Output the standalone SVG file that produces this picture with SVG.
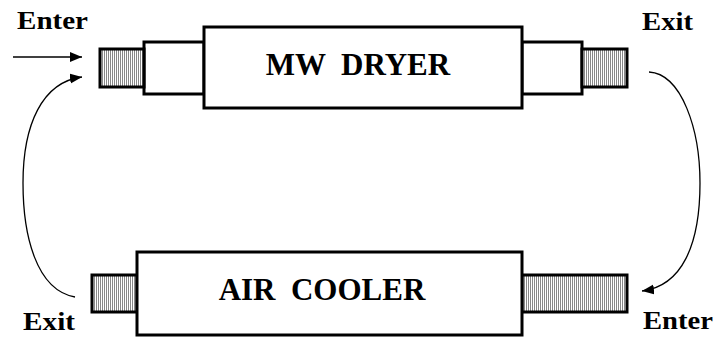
<svg xmlns="http://www.w3.org/2000/svg" width="717" height="338" viewBox="0 0 717 338">
<style>
.box{fill:#fff;stroke:#000;stroke-width:3}
.hatch{fill:url(#vh);stroke:#000;stroke-width:3}
.lbl{font-family:"Liberation Serif","Times New Roman",serif;font-weight:bold;fill:#000}
.big{font-size:31px;text-anchor:middle}
.corner{font-size:26px}
.conn{fill:none;stroke:#000;stroke-width:1.3}
</style>
<defs>
<pattern id="vh" width="2" height="4" patternUnits="userSpaceOnUse">
<rect width="2" height="4" fill="#fff"/>
<rect x="0" y="0" width="1" height="4" fill="#888"/>
</pattern>
<marker id="ah" markerWidth="13" markerHeight="11" refX="12" refY="5" orient="auto" markerUnits="userSpaceOnUse">
<path d="M0,0 L12,5 L0,10 z" fill="#000"/>
</marker>
</defs>
<g id="mw-dryer">
<rect class="box" x="144" y="42" width="60" height="52"/>
<rect class="box" x="522" y="42" width="60" height="52"/>
<rect class="hatch" x="100" y="49" width="44" height="38"/>
<rect class="hatch" x="582" y="49" width="45" height="38"/>
<rect class="box" x="204" y="27" width="318" height="81"/>
<text class="lbl big" x="358" y="75" xml:space="preserve">MW  DRYER</text>
</g>
<g id="air-cooler">
<rect class="hatch" x="92" y="275" width="45" height="37"/>
<rect class="hatch" x="522" y="275" width="105" height="37"/>
<rect class="box" x="137" y="252" width="385" height="83"/>
<text class="lbl big" x="322" y="300" xml:space="preserve">AIR  COOLER</text>
</g>
<g id="labels">
<text class="lbl corner" x="17" y="29" textLength="71" lengthAdjust="spacingAndGlyphs">Enter</text>
<text class="lbl corner" x="642" y="30" textLength="51" lengthAdjust="spacingAndGlyphs">Exit</text>
<text class="lbl corner" x="23" y="330" textLength="52" lengthAdjust="spacingAndGlyphs">Exit</text>
<text class="lbl corner" x="643" y="329" textLength="70" lengthAdjust="spacingAndGlyphs">Enter</text>
</g>
<g id="connectors">
<path class="conn" d="M13,57 L82,57" marker-end="url(#ah)"/>
<path class="conn" d="M75,297 C36,290 23,235 23,183 C23,125 42,82 82,77" marker-end="url(#ah)"/>
<path class="conn" d="M649,72 C682,74 700,130 700,183 C700,245 682,286 642,291" marker-end="url(#ah)"/>
</g>
</svg>
